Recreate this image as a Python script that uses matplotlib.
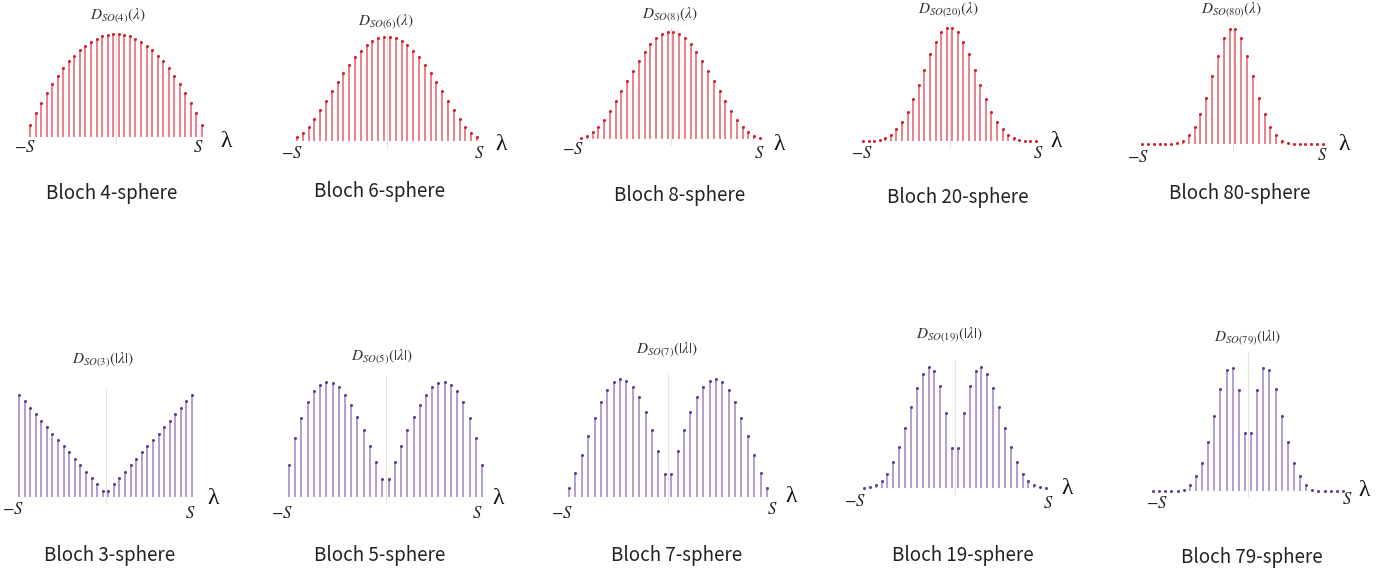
import numpy as np
import matplotlib
matplotlib.use('Agg')
import matplotlib.pyplot as plt

plt.rcParams['font.family'] = ['Noto Sans CJK JP', 'DejaVu Sans']
plt.rcParams['mathtext.fontset'] = 'stix'

W, H = 1399, 571

# weights lambda = -S .. S  (half-integer steps, S = 31/2)
lam = np.arange(-15.5, 16, 1.0)

# left halves (from -S up to the centre), mirrored for the right half
half_so4 = [36, 71, 103, 133, 159, 185, 207, 228, 246, 262, 276, 287, 297, 304, 309, 311]
half_so6 = [12, 24, 43, 67, 93, 120, 149, 176, 202, 227, 250, 269, 286, 299, 308, 311]
half_so8 = [4, 10, 20, 37, 58, 83, 113, 145, 175, 206, 235, 262, 286, 304, 316, 322]
half_so20 = [0, 0.5, 1, 2, 9, 18, 35, 58, 88, 125, 168, 213, 260, 296, 325, 338]
half_so80 = [0, 0, 0, 0, 0, 0, 3, 8, 26, 51, 89, 139, 202, 264, 316, 344]
half_so3 = [307, 288, 268, 249, 230, 211, 191, 172, 153, 134, 114, 95, 76, 57, 38, 19]
half_so5 = [97, 177, 237, 285, 318, 337, 345, 341, 329, 306, 277, 241, 201, 154, 105, 54]
half_so7 = [28, 71, 125, 181, 236, 283, 320, 343, 353, 348, 330, 298, 254, 201, 138, 70]
half_so19 = [1, 3, 8, 20, 42, 77, 124, 181, 243, 301, 345, 365, 352, 307, 225, 121]
half_so79 = [0, 0, 0, 0, 1, 4, 19, 44, 84, 147, 226, 307, 363, 369, 304, 174]

titles = [r'$D_{SO(4)}(\lambda)$', r'$D_{SO(6)}(\lambda)$', r'$D_{SO(8)}(\lambda)$',
          r'$D_{SO(20)}(\lambda)$', r'$D_{SO(80)}(\lambda)$',
          r'$D_{SO(3)}(|\lambda|)$', r'$D_{SO(5)}(|\lambda|)$', r'$D_{SO(7)}(|\lambda|)$',
          r'$D_{SO(19)}(|\lambda|)$', r'$D_{SO(79)}(|\lambda|)$']
captions = ['Bloch 4-sphere', 'Bloch 6-sphere', 'Bloch 8-sphere', 'Bloch 20-sphere', 'Bloch 80-sphere',
            'Bloch 3-sphere', 'Bloch 5-sphere', 'Bloch 7-sphere', 'Bloch 19-sphere', 'Bloch 79-sphere']
halves = [half_so4, half_so6, half_so8, half_so20, half_so80,
          half_so3, half_so5, half_so7, half_so19, half_so79]

# pixel layout: stem left, stem right, baseline, top, title, -S, S, lambda, caption, axis top
layout = [
    (30, 202, 137, 34, (118, 16), (25, 148), (198, 148), (226, 142), (112, 193), 31),
    (297, 477, 141, 37, (386, 22), (292, 153), (479, 153), (501, 145), (380, 191), 33),
    (581, 760, 139, 32, (670, 15), (573, 150), (759, 153), (779, 145), (680, 195), 28),
    (863, 1036, 141, 28, (949, 10), (862, 154), (1038, 153), (1056, 142), (958, 198), 23),
    (1142, 1323, 144, 29, (1232, 10), (1138, 157), (1322, 155), (1344, 145), (1240, 194), 24),
    (19, 192, 497, 395, (103, 360), (13, 510), (190, 513), (213, 499), (110, 555), 390),
    (289, 482, 497, 382, (382, 357), (282, 513), (477, 513), (498, 499), (380, 556), 377),
    (569, 767, 497, 379, (667, 350), (562, 513), (772, 510), (791, 496), (677, 556), 373),
    (864, 1046, 488, 367, (950, 335), (855, 502), (1048, 503), (1067, 489), (963, 556), 360),
    (1153, 1343, 491, 368, (1248, 338), (1157, 503), (1347, 500), (1364, 491), (1252, 558), 352),
]

red_line, red_dot = '#e4606c', '#d0202e'
pur_line, pur_dot = '#9f82c8', '#5e3f8e'


def fx(x):
    return x / W


def fy(y):
    return 1 - y / H


fig = plt.figure(figsize=(W / 100, H / 100), dpi=100)

for i in range(10):
    left, right, base, top, t_xy, ms_xy, s_xy, l_xy, c_xy, ax_top = layout[i]
    half = halves[i]
    vals = np.array(half + half[::-1], dtype=float)
    if i < 5:
        lc, dc = red_line, red_dot
    else:
        lc, dc = pur_line, pur_dot

    ax = fig.add_axes([fx(left), fy(base), (right - left) / W, (base - top) / H])
    ax.set_xlim(-15.5, 15.5)
    ax.set_ylim(0, vals.max())
    ax.axis('off')

    hpx = base - top
    ax.axvline(0, ymin=-6 / hpx, ymax=(base - ax_top) / hpx, color='#e2e2e2', lw=0.8,
               clip_on=False, zorder=0)
    ax.vlines(lam, 0, vals, color=lc, lw=1.1, zorder=2, clip_on=False)
    ax.plot(lam, vals, 'o', ms=2.2, color=dc, mec='none', zorder=3, clip_on=False)

    fig.text(fx(t_xy[0]), fy(t_xy[1]), titles[i], ha='center', va='center', fontsize=11,
             color='#333333')
    fig.text(fx(ms_xy[0]), fy(ms_xy[1]), r'$-S$', ha='center', va='center', fontsize=12,
             color='#222222')
    fig.text(fx(s_xy[0]), fy(s_xy[1]), r'$S$', ha='center', va='center', fontsize=12,
             color='#222222')
    fig.text(fx(l_xy[0]), fy(l_xy[1]), 'λ', ha='center', va='center', fontsize=17,
             color='#111111', family='Liberation Serif')
    fig.text(fx(c_xy[0]), fy(c_xy[1]), captions[i], ha='center', va='center', fontsize=13.5,
             color='#222222')

fig.savefig('out.png', dpi=100, facecolor='white')
